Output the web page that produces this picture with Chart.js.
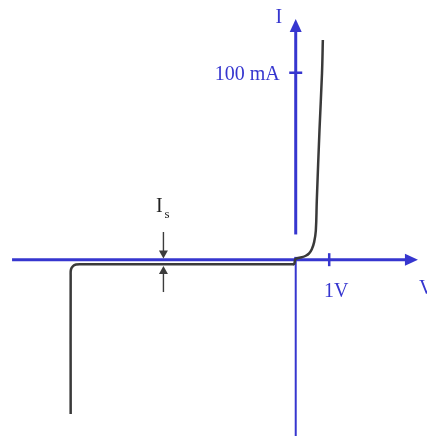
<!DOCTYPE html>
<html>
<head>
<meta charset="utf-8">
<script src="https://cdn.jsdelivr.net/npm/chart.js@4"></script>
<style>
  html, body { margin: 0; padding: 0; background: #fff; }
  canvas { display: block; }
</style>
</head>
<body>
<canvas id="diodeChart" width="427" height="436"></canvas>
<script>
// Diode I-V curve (schematic): volts vs mA
const voltage = [-6.72, -6.72, -6.71, -6.65, -6.56, -6.43, -0.11, -0.05, -0.01, 0.04, 0.18, 0.30, 0.40, 0.48, 0.55, 0.60, 0.63, 0.71, 0.785, 0.81];
const current = [-82.5, -8.2, -5.2, -3.4, -2.6, -2.4, -2.4, -2.4, 0.4, 0.75, 1.3, 2.1, 3.4, 5.6, 9.4, 15.5, 31.9, 69.4, 99.8, 117.5];

const xTicks = [1];
const xTickLabels = ["1V"];
const yTicks = [100];
const yTickLabels = ["100 mA"];
const axisTitles = ["V", "I"];

// saturation current marker
const satLabel = ["I", "s"];
const satV = -3.95;
const satArrowTop = [14.8, 0.64];
const satArrowBottom = [-17.3, -3.4];

const BLUE = "#3636cf";
const CURVE = "#3a3a3a";
const SERIF = "'Liberation Serif', 'Times New Roman', serif";

function line(ctx, x1, y1, x2, y2) {
  ctx.beginPath();
  ctx.moveTo(x1, y1);
  ctx.lineTo(x2, y2);
  ctx.stroke();
}

function triangle(ctx, ax, ay, bx, by, cx, cy) {
  ctx.beginPath();
  ctx.moveTo(ax, ay);
  ctx.lineTo(bx, by);
  ctx.lineTo(cx, cy);
  ctx.closePath();
  ctx.fill();
}

const axisPlugin = {
  id: "axisPlugin",
  beforeDatasetsDraw(chart) {
    const ctx = chart.ctx;
    const xs = chart.scales.x;
    const ys = chart.scales.y;
    const x0 = xs.getPixelForValue(0);
    const y0 = ys.getPixelForValue(0);
    const xEnd = xs.getPixelForValue(3.65);
    const yEnd = ys.getPixelForValue(128.7);

    ctx.save();
    ctx.strokeStyle = BLUE;
    ctx.fillStyle = BLUE;

    // horizontal axis + arrow
    ctx.lineWidth = 3;
    line(ctx, xs.getPixelForValue(-8.47), y0, xEnd - 12, y0);
    triangle(ctx, xEnd, y0, xEnd - 13, y0 - 6, xEnd - 13, y0 + 6);

    // vertical axis + arrow (scan gap just above origin)
    line(ctx, x0, yEnd + 12, x0, ys.getPixelForValue(13.5));
    line(ctx, x0, ys.getPixelForValue(1.5), x0, y0);
    triangle(ctx, x0, yEnd, x0 - 6, yEnd + 13, x0 + 6, yEnd + 13);
    ctx.lineWidth = 2;
    line(ctx, x0, y0, x0, chart.height);

    // ticks
    ctx.lineWidth = 2.5;
    ctx.font = "20px " + SERIF;
    xTicks.forEach(function (v, i) {
      const px = xs.getPixelForValue(v);
      line(ctx, px, y0 - 6.5, px, y0 + 6.5);
      ctx.textAlign = "center";
      ctx.fillText(xTickLabels[i], px + 7, y0 + 37);
    });
    yTicks.forEach(function (v, i) {
      const py = ys.getPixelForValue(v);
      line(ctx, x0 - 6.5, py, x0 + 6.5, py);
      ctx.textAlign = "right";
      ctx.fillText(yTickLabels[i], x0 - 16, py + 7);
    });

    // axis titles
    ctx.textAlign = "left";
    ctx.fillText(axisTitles[0], xEnd + 1, y0 + 34);
    ctx.textAlign = "center";
    ctx.fillText(axisTitles[1], x0 - 17, yEnd + 4);

    // Is marker
    const sx = xs.getPixelForValue(satV);
    ctx.strokeStyle = "#3c3c3c";
    ctx.fillStyle = "#3c3c3c";
    ctx.lineWidth = 1.4;
    const tTop = ys.getPixelForValue(satArrowTop[0]);
    const tTip = ys.getPixelForValue(satArrowTop[1]);
    line(ctx, sx, tTop, sx, tTip - 7);
    triangle(ctx, sx, tTip, sx - 4.5, tTip - 8, sx + 4.5, tTip - 8);
    const bTop = ys.getPixelForValue(satArrowBottom[0]);
    const bTip = ys.getPixelForValue(satArrowBottom[1]);
    line(ctx, sx, bTop, sx, bTip + 7);
    triangle(ctx, sx, bTip, sx - 4.5, bTip + 8, sx + 4.5, bTip + 8);

    ctx.fillStyle = "#222";
    ctx.textAlign = "center";
    ctx.font = "20px " + SERIF;
    ctx.fillText(satLabel[0], sx - 4, tTop - 20);
    ctx.textAlign = "left";
    ctx.font = "13px " + SERIF;
    ctx.fillText(satLabel[1], sx + 1, tTop - 14);

    ctx.restore();
  }
};

const points = voltage.map(function (v, i) {
  return { x: v, y: current[i] };
});

new Chart(document.getElementById("diodeChart"), {
  type: "scatter",
  data: {
    datasets: [{
      data: points,
      showLine: true,
      borderColor: CURVE,
      borderWidth: 2.5,
      pointRadius: 0,
      tension: 0.4
    }]
  },
  options: {
    responsive: false,
    animation: false,
    layout: { padding: 0 },
    scales: {
      x: { type: "linear", min: -8.83, max: 3.92, display: false },
      y: { type: "linear", min: -94.3, max: 138.9, display: false }
    },
    plugins: {
      legend: { display: false },
      tooltip: { enabled: false }
    }
  },
  plugins: [axisPlugin]
});
</script>
</body>
</html>
